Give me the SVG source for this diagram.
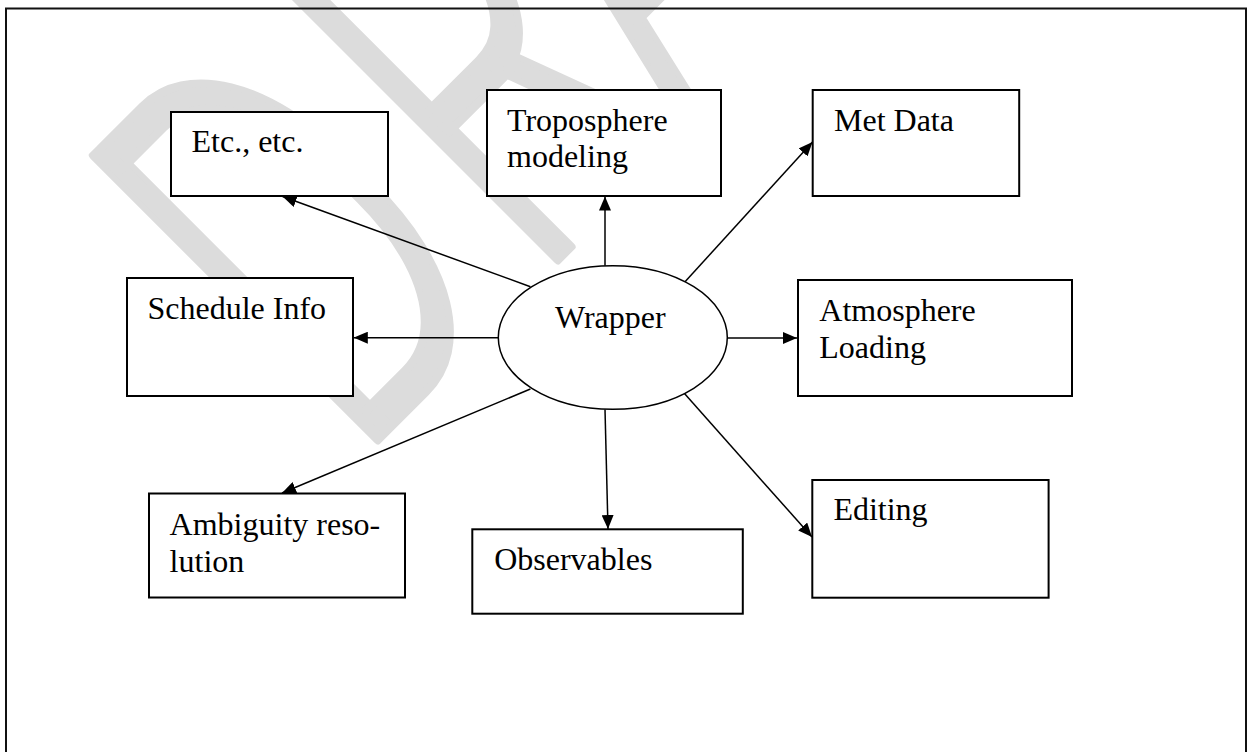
<svg xmlns="http://www.w3.org/2000/svg" width="1253" height="752" viewBox="0 0 1253 752">
<style>
.box{fill:#fff;stroke:#000;stroke-width:2}
.lbl{font-family:"Liberation Serif","Times New Roman",serif;font-size:32px;fill:#000}
.conn{stroke:#000;stroke-width:1.5;fill:none}
</style>
<defs>
<marker id="ah" markerWidth="14" markerHeight="12" refX="14" refY="6" orient="auto" markerUnits="userSpaceOnUse">
<path d="M0,0 L14,6 L0,12 z" fill="#000"/>
</marker>
</defs>
<rect width="1253" height="752" fill="#fff"/>
<g id="watermark" transform="rotate(-45)">
<text transform="scale(0.63,1)" x="-123 282 617" y="578" font-family="Roboto,'Liberation Sans',sans-serif" font-weight="300" font-size="565" fill="#dcdcdc" stroke="#dcdcdc" stroke-width="9" stroke-linejoin="round">DRAFT</text>
</g>
<rect id="frame" x="6" y="8.5" width="1240" height="760" fill="none" stroke="#111" stroke-width="2"/>
<g id="connectors">
<line class="conn" x1="530.4" y1="286.7" x2="282.6" y2="196.5" marker-end="url(#ah)"/>
<line class="conn" x1="605" y1="265.7" x2="605" y2="196.5" marker-end="url(#ah)"/>
<line class="conn" x1="680.7" y1="286.5" x2="812.5" y2="142" marker-end="url(#ah)"/>
<line class="conn" x1="499" y1="337.7" x2="353.8" y2="337.7" marker-end="url(#ah)"/>
<line class="conn" x1="711.5" y1="338" x2="797" y2="338" marker-end="url(#ah)"/>
<line class="conn" x1="530.4" y1="389" x2="282" y2="493" marker-end="url(#ah)"/>
<line class="conn" x1="605" y1="409.5" x2="608" y2="529" marker-end="url(#ah)"/>
<line class="conn" x1="680.7" y1="389.3" x2="812" y2="537" marker-end="url(#ah)"/>
</g>
<g id="node-wrapper">
<ellipse cx="612.8" cy="337.5" rx="114.5" ry="71.8" fill="#fff" stroke="#000" stroke-width="1.5"/>
<text class="lbl" x="555" y="327.5">Wrapper</text>
</g>
<g id="node-etc">
<rect class="box" x="171" y="112" width="217" height="84"/>
<text class="lbl" x="191.5" y="152">Etc., etc.</text>
</g>
<g id="node-troposphere">
<rect class="box" x="487" y="90" width="234" height="106"/>
<text class="lbl" x="507" y="131">Troposphere</text>
<text class="lbl" x="507" y="167">modeling</text>
</g>
<g id="node-metdata">
<rect class="box" x="812.7" y="90" width="206.5" height="106"/>
<text class="lbl" x="834" y="131">Met Data</text>
</g>
<g id="node-schedule">
<rect class="box" x="127" y="278" width="226" height="118"/>
<text class="lbl" x="147.5" y="318.5">Schedule Info</text>
</g>
<g id="node-atmosphere">
<rect class="box" x="798" y="280" width="274" height="116"/>
<text class="lbl" x="819.3" y="321">Atmosphere</text>
<text class="lbl" x="819.3" y="358">Loading</text>
</g>
<g id="node-ambiguity">
<rect class="box" x="149" y="493.5" width="256" height="104"/>
<text class="lbl" x="169.6" y="535">Ambiguity reso-</text>
<text class="lbl" x="169.6" y="571.7">lution</text>
</g>
<g id="node-observables">
<rect class="box" x="472.3" y="529.3" width="270.5" height="84.4"/>
<text class="lbl" x="494.2" y="570">Observables</text>
</g>
<g id="node-editing">
<rect class="box" x="812.3" y="480" width="236.3" height="117.7"/>
<text class="lbl" x="833.4" y="520">Editing</text>
</g>
</svg>
